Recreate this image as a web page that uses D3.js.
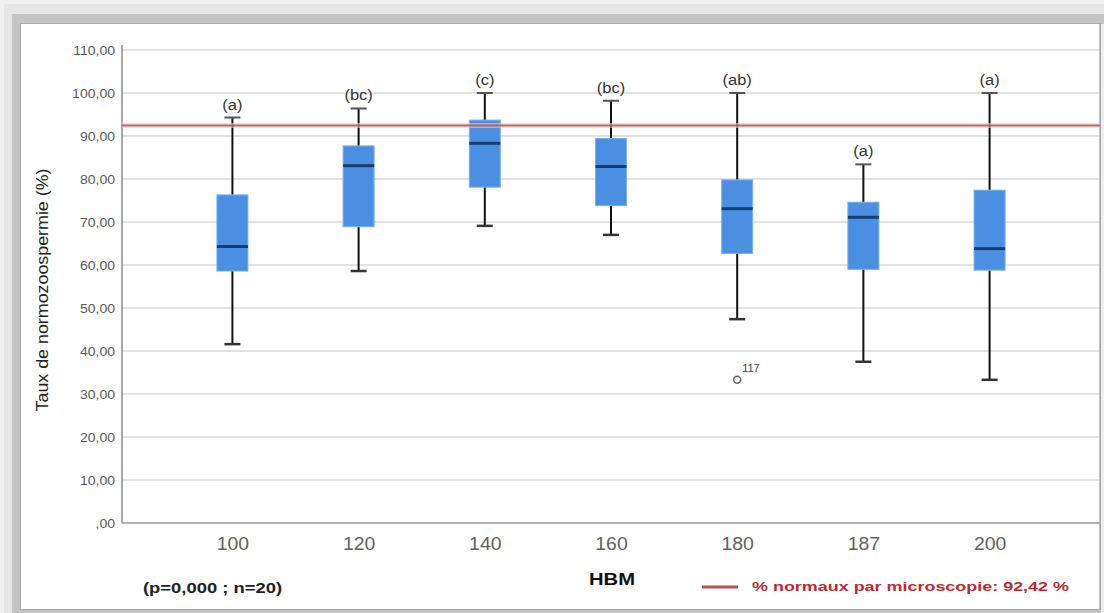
<!DOCTYPE html>
<html>
<head>
<meta charset="utf-8">
<script src="https://cdn.jsdelivr.net/npm/d3@7"></script>
<style>
  html, body { margin: 0; padding: 0; background: #fff; }
  svg { display: block; }
  text { font-family: "Liberation Sans", Arial, sans-serif; }
</style>
</head>
<body>
<svg id="chart" width="1104" height="613"></svg>
<script>
// ---- data ----
const categories  = ["100", "120", "140", "160", "180", "187", "200"];
const whiskerHigh = [94.3, 96.4, 100.0, 98.2, 100.0, 83.4, 100.0];
const q3          = [76.3, 87.7, 93.7, 89.4, 79.8, 74.6, 77.4];
const medians     = [64.3, 83.1, 88.3, 82.9, 73.1, 71.1, 63.8];
const q1          = [58.6, 68.9, 78.1, 73.8, 62.7, 59.0, 58.8];
const whiskerLow  = [41.6, 58.6, 69.1, 67.0, 47.4, 37.5, 33.3];
const groupLetters = ["(a)", "(bc)", "(c)", "(bc)", "(ab)", "(a)", "(a)"];
const outlierCats   = ["180"];
const outlierValues = [33.3];
const outlierLabels = ["117"];
const yTicks = [0, 10, 20, 30, 40, 50, 60, 70, 80, 90, 100, 110];
const referenceValue = 92.42;
const yTitle = "Taux de normozoospermie (%)";
const xTitle = "HBM";
const noteText = "(p=0,000 ; n=20)";
const legendText = "% normaux par microscopie: 92,42 %";

// ---- layout ----
const svg = d3.select("#chart");
const W = 1104, H = 613;
const plot = { left: 122, right: 1100, top: 50, bottom: 523 };

// outer frame / shadow
svg.append("rect").attr("x", 0).attr("y", 0).attr("width", W).attr("height", H).attr("fill", "#f1f1f1");
svg.append("rect").attr("x", 4).attr("y", 4).attr("width", W - 4).attr("height", H - 4).attr("fill", "#e6e6e6");
svg.append("rect").attr("x", 12).attr("y", 14).attr("width", W - 12).attr("height", H - 14).attr("fill", "#c4c4c4");
svg.append("rect").attr("x", 20).attr("y", 23).attr("width", 1082).attr("height", 587).attr("fill", "#a9a9a9");
svg.append("rect").attr("x", 21).attr("y", 24).attr("width", 1079).attr("height", 585).attr("fill", "#ffffff");
svg.append("rect").attr("x", 1101).attr("y", 24).attr("width", 3).attr("height", 589).attr("fill", "#eeeeee");

const x = d3.scalePoint().domain(categories).range([plot.left, plot.right]).padding(0.875);
const y = d3.scaleLinear().domain([0, 110]).range([plot.bottom, plot.top]);

// gridlines
svg.append("g").selectAll("line").data(yTicks.filter(d => d > 0)).join("line")
  .attr("x1", plot.left).attr("x2", plot.right)
  .attr("y1", d => y(d)).attr("y2", d => y(d))
  .attr("stroke", "#e2e2e2").attr("stroke-width", 2);

// y axis
const fmt = d => d === 0 ? ",00" : d.toFixed(2).replace(".", ",");
const yAxis = svg.append("g").attr("transform", `translate(${plot.left},0)`)
  .call(d3.axisLeft(y).tickValues(yTicks).tickFormat(fmt).tickSize(0).tickPadding(7));
yAxis.select(".domain").attr("stroke", "#8a8a8a").attr("stroke-width", 1.5)
  .attr("d", `M0,${plot.top - 5}V${plot.bottom}`);
yAxis.selectAll("text").attr("font-size", 13).attr("fill", "#5a5a5a")
  .attr("font-family", "Liberation Sans, Arial, sans-serif")
  .attr("transform", "scale(1.08,1)").attr("x", -7 / 1.08);

// x axis
const xAxis = svg.append("g").attr("transform", `translate(0,${plot.bottom})`)
  .call(d3.axisBottom(x).tickSize(0).tickPadding(14));
xAxis.select(".domain").attr("stroke", "#9a9a9a").attr("stroke-width", 1.5)
  .attr("d", `M${plot.left},0H${plot.right}`);
xAxis.selectAll("text").attr("font-size", 18).attr("fill", "#606060")
  .attr("font-family", "Liberation Sans, Arial, sans-serif")
  .attr("dy", "0.71em")
  .attr("transform", "scale(1.08,1)");

// right border of plot panel
svg.append("line").attr("x1", plot.right).attr("x2", plot.right).attr("y1", 24).attr("y2", 610)
  .attr("stroke", "#a9a9a9").attr("stroke-width", 1.5);

// boxes
const boxW = 31, capW = 16;
const idx = d3.range(categories.length);
const g = svg.append("g");
// whiskers
g.selectAll("line.wh").data(idx).join("line").attr("class", "wh")
  .attr("x1", i => x(categories[i])).attr("x2", i => x(categories[i]))
  .attr("y1", i => y(whiskerHigh[i])).attr("y2", i => y(q3[i]))
  .attr("stroke", "#111").attr("stroke-width", 2);
g.selectAll("line.wl").data(idx).join("line").attr("class", "wl")
  .attr("x1", i => x(categories[i])).attr("x2", i => x(categories[i]))
  .attr("y1", i => y(q1[i])).attr("y2", i => y(whiskerLow[i]))
  .attr("stroke", "#111").attr("stroke-width", 2);
// caps
g.selectAll("line.ch").data(idx).join("line").attr("class", "ch")
  .attr("x1", i => x(categories[i]) - capW / 2).attr("x2", i => x(categories[i]) + capW / 2)
  .attr("y1", i => y(whiskerHigh[i])).attr("y2", i => y(whiskerHigh[i]))
  .attr("stroke", "#555").attr("stroke-width", 2);
g.selectAll("line.cl").data(idx).join("line").attr("class", "cl")
  .attr("x1", i => x(categories[i]) - capW / 2).attr("x2", i => x(categories[i]) + capW / 2)
  .attr("y1", i => y(whiskerLow[i])).attr("y2", i => y(whiskerLow[i]))
  .attr("stroke", "#333").attr("stroke-width", 2.5);
// box rects
g.selectAll("rect.box").data(idx).join("rect").attr("class", "box")
  .attr("x", i => x(categories[i]) - boxW / 2).attr("width", boxW)
  .attr("y", i => y(q3[i])).attr("height", i => y(q1[i]) - y(q3[i]))
  .attr("fill", "#4a8fe2").attr("stroke", "#79b0ef").attr("stroke-width", 1);
// medians
g.selectAll("line.med").data(idx).join("line").attr("class", "med")
  .attr("x1", i => x(categories[i]) - boxW / 2).attr("x2", i => x(categories[i]) + boxW / 2)
  .attr("y1", i => y(medians[i])).attr("y2", i => y(medians[i]))
  .attr("stroke", "#163d72").attr("stroke-width", 3);
// group letters
g.selectAll("text.let").data(idx).join("text").attr("class", "let")
  .attr("transform", i => `translate(${x(categories[i])},${y(whiskerHigh[i]) - 8}) scale(1.1,1)`)
  .attr("text-anchor", "middle").attr("font-size", 15).attr("fill", "#333")
  .text(i => groupLetters[i]);

// outliers
const oi = d3.range(outlierCats.length);
g.selectAll("circle.out").data(oi).join("circle").attr("class", "out")
  .attr("cx", i => x(outlierCats[i])).attr("cy", i => y(outlierValues[i]))
  .attr("r", 3.5).attr("fill", "none").attr("stroke", "#666").attr("stroke-width", 1.5);
g.selectAll("text.outl").data(oi).join("text").attr("class", "outl")
  .attr("x", i => x(outlierCats[i]) + 5).attr("y", i => y(outlierValues[i]) - 8)
  .attr("font-size", 11).attr("fill", "#444")
  .text(i => outlierLabels[i]);

// reference line
svg.append("line").attr("x1", plot.left).attr("x2", plot.right)
  .attr("y1", y(referenceValue)).attr("y2", y(referenceValue))
  .attr("stroke", "#f1cdcb").attr("stroke-width", 5).attr("opacity", 0.6);
svg.append("line").attr("x1", plot.left).attr("x2", plot.right)
  .attr("y1", y(referenceValue)).attr("y2", y(referenceValue))
  .attr("stroke", "#b9524d").attr("stroke-width", 2).attr("opacity", 0.85);

// y title
svg.append("text")
  .attr("transform", `translate(48,290) rotate(-90) scale(1.05,1)`)
  .attr("text-anchor", "middle").attr("font-size", 17).attr("fill", "#222")
  .text(yTitle);

// x title
svg.append("text").attr("x", 589).attr("y", 585)
  .attr("textLength", 46).attr("lengthAdjust", "spacingAndGlyphs")
  .attr("font-size", 17).attr("font-weight", "bold").attr("fill", "#111")
  .text(xTitle);

// note
svg.append("text").attr("x", 143).attr("y", 593)
  .attr("textLength", 139).attr("lengthAdjust", "spacingAndGlyphs")
  .attr("font-size", 14).attr("font-weight", "bold").attr("fill", "#222")
  .text(noteText);

// legend
svg.append("line").attr("x1", 702).attr("x2", 738).attr("y1", 587).attr("y2", 587)
  .attr("stroke", "#b9524d").attr("stroke-width", 3);
svg.append("text").attr("x", 752).attr("y", 591)
  .attr("textLength", 317).attr("lengthAdjust", "spacingAndGlyphs")
  .attr("font-size", 13).attr("font-weight", "bold").attr("fill", "#c0282f")
  .text(legendText);
</script>
</body>
</html>
